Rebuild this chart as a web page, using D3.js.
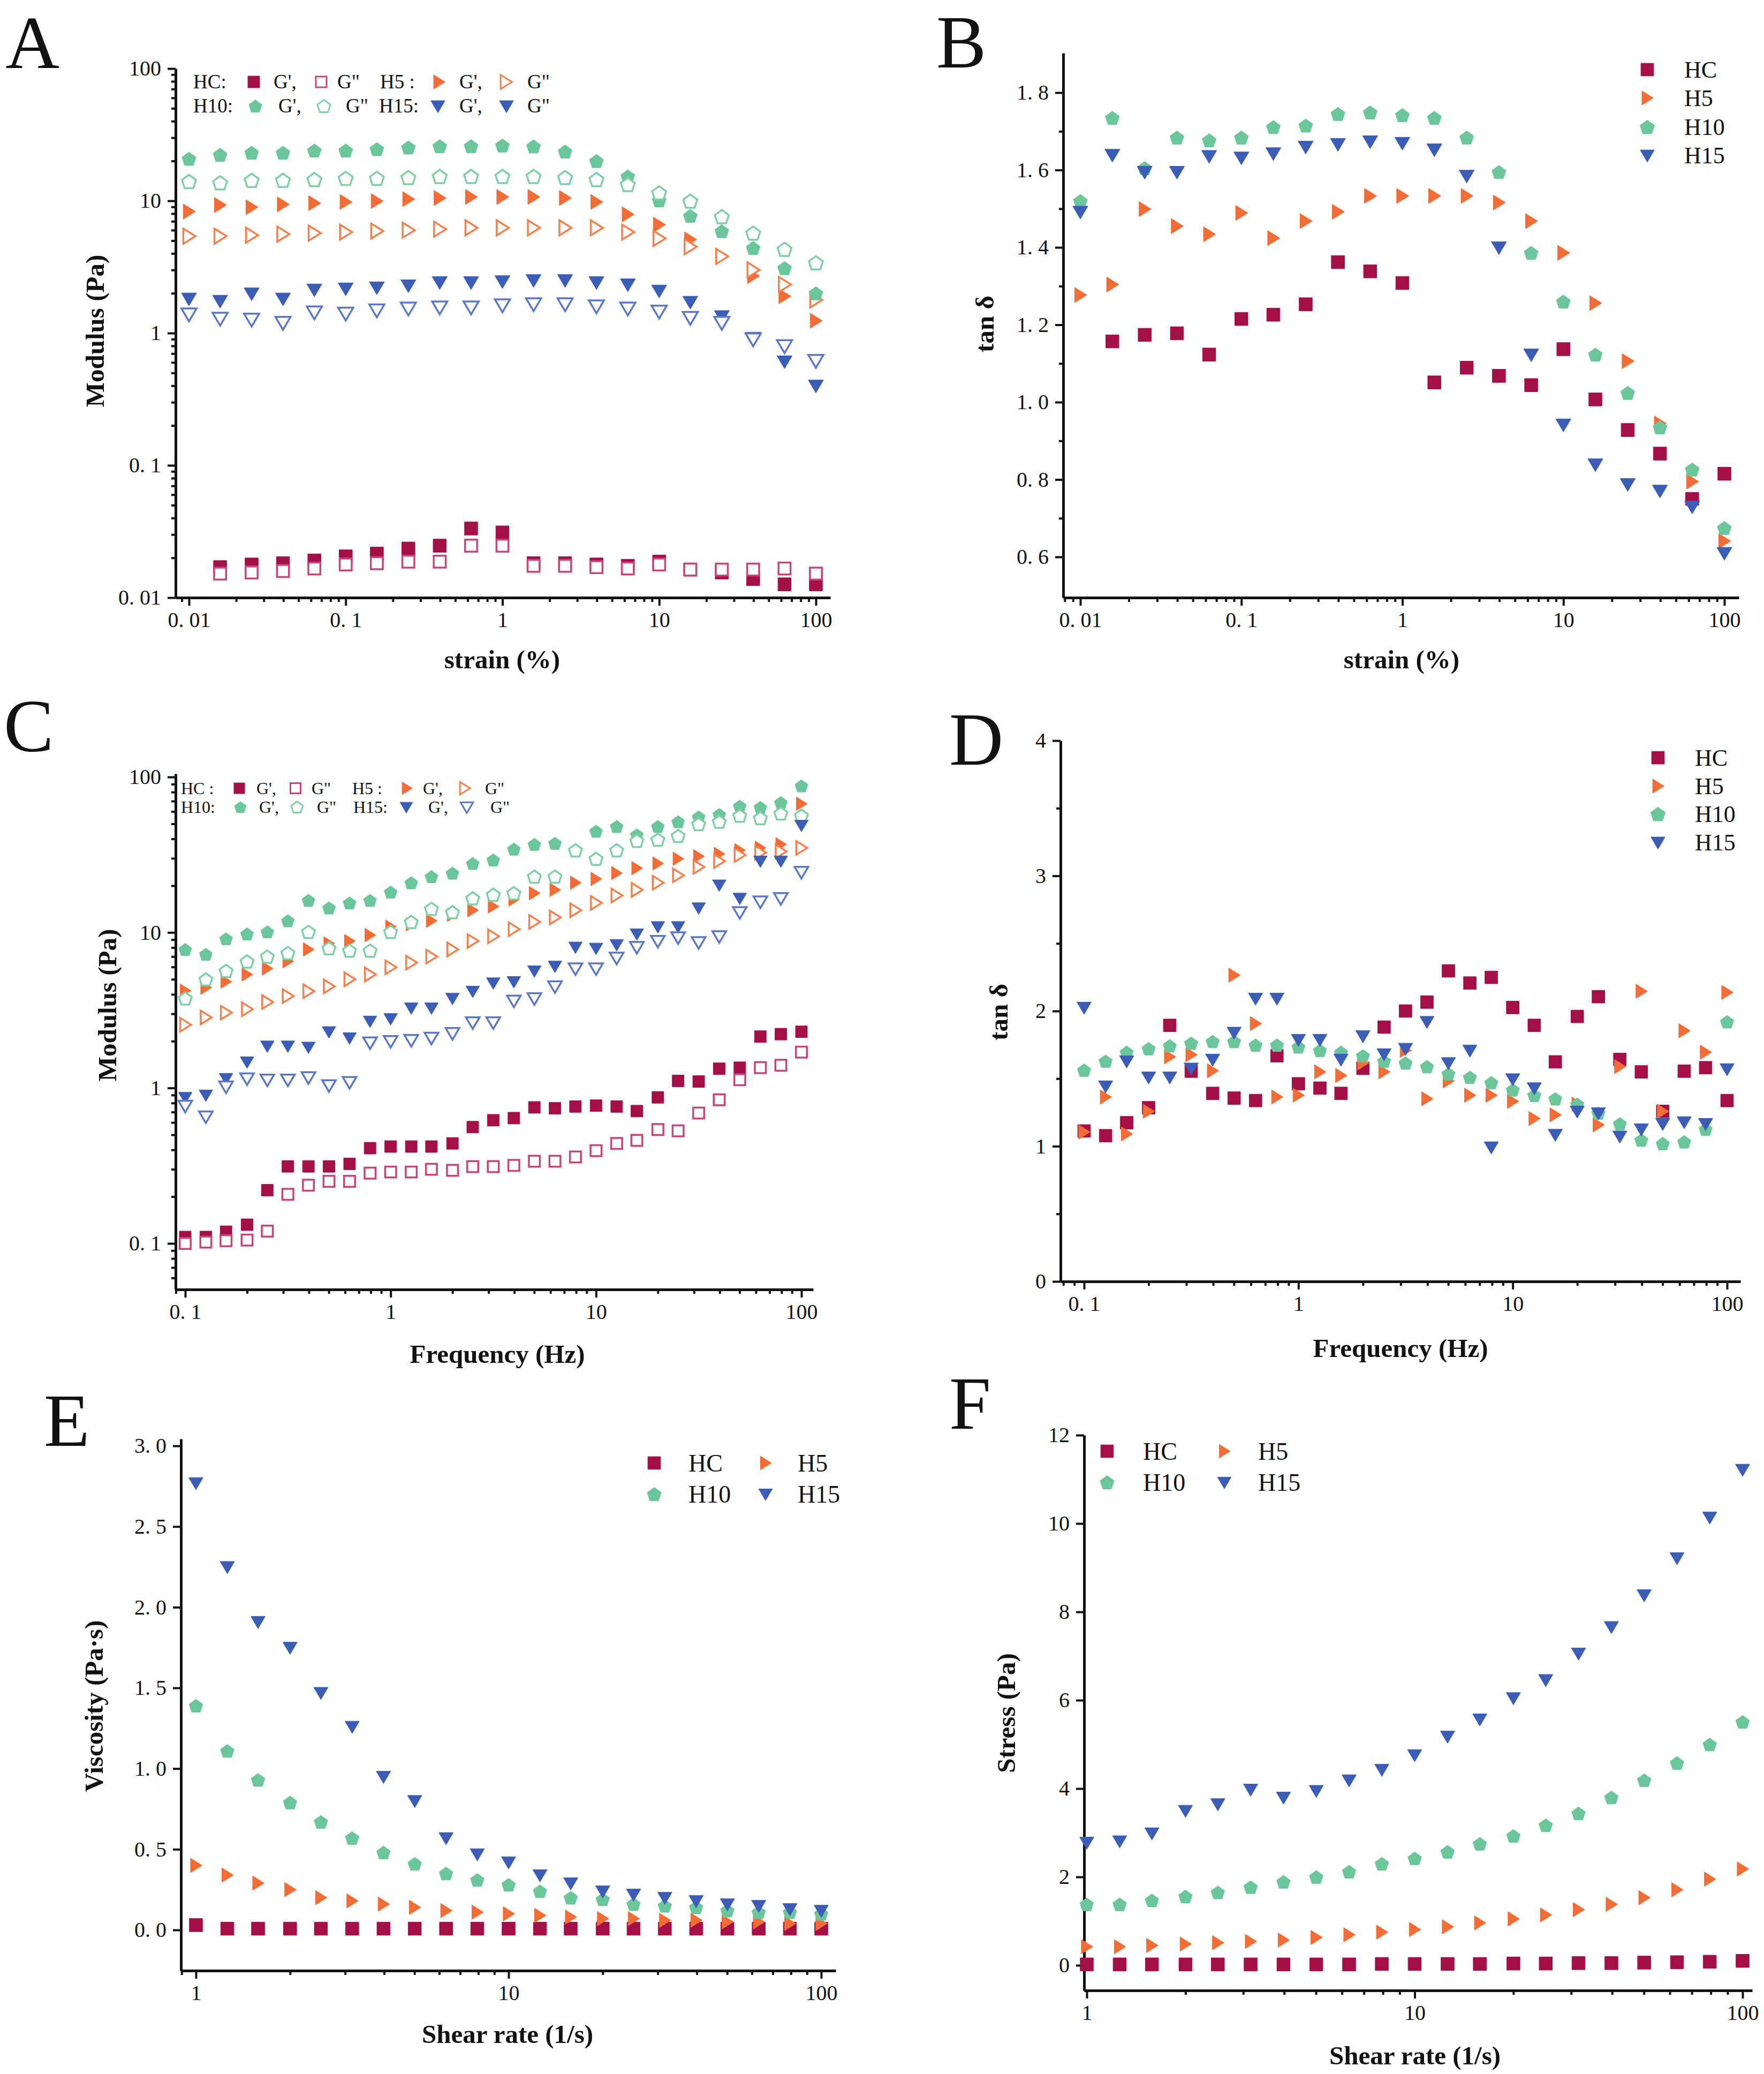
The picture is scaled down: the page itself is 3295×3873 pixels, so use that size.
<!DOCTYPE html>
<html><head><meta charset="utf-8">
<script src="https://cdn.jsdelivr.net/npm/d3@7"></script>
<style>
body{margin:0;background:#fff;}
svg text{font-family:"Liberation Serif","Times New Roman",serif;fill:#111;}
.axis .domain{stroke:#111;stroke-width:5;}
.axis .tick line{stroke:#111;stroke-width:4;}
.axis .tick text{font-size:40px;}
.minor .domain{display:none;}
.title{font-weight:bold;font-size:49px;}
.letter{font-size:140px;}
</style></head><body>
<svg id="chart" width="3295" height="3873"></svg>
<script>
// ---------------- DATA ----------------
const strain = [0.01,0.0158,0.0251,0.0398,0.0631,0.1,0.158,0.251,0.398,0.631,1,1.58,2.51,3.98,6.31,10,15.8,25.1,39.8,63.1,100];
const freq = [0.1,0.126,0.158,0.2,0.251,0.316,0.398,0.501,0.631,0.794,1,1.26,1.58,2,2.51,3.16,3.98,5.01,6.31,7.94,10,12.6,15.8,20,25.1,31.6,39.8,50.1,63.1,79.4,100];
const shear = [1,1.26,1.58,2,2.51,3.16,3.98,5.01,6.31,7.94,10,12.6,15.8,20,25.1,31.6,39.8,50.1,63.1,79.4,100];

// A: strain sweep modulus (Pa)
const aHC_G1 = [null,0.0170,0.0178,0.0182,0.0191,0.0205,0.0215,0.0235,0.0247,0.0333,0.0311,0.0182,0.0182,0.0178,0.0174,0.0187,0.0163,0.0155,0.0138,0.0126,0.0126];
const aHC_G2 = [null,0.0152,0.0155,0.0159,0.0166,0.0178,0.0182,0.0187,0.0187,0.0247,0.0247,0.0174,0.0174,0.0170,0.0166,0.0178,0.0163,0.0163,0.0163,0.0166,0.0152];
const aH5_G1 = [8.3,9.3,8.95,9.4,9.6,9.8,9.96,10.3,10.5,10.7,10.7,10.7,10.5,9.8,7.9,6.6,5.1,3.8,2.7,1.9,1.24];
const aH5_G2 = [5.4,5.4,5.5,5.6,5.7,5.8,5.9,6.0,6.1,6.25,6.25,6.25,6.25,6.25,5.8,5.2,4.5,3.8,3.0,2.33,1.78];
const aH10_G1 = [20.8,22.3,23.1,23.1,24.0,24.0,24.6,25.3,25.9,25.9,26.2,25.8,23.6,20.0,15.3,10.1,7.7,5.9,4.4,3.1,2.0];
const aH10_G2 = [14.0,13.7,14.3,14.3,14.5,14.8,14.8,15.0,15.3,15.3,15.3,15.3,15.0,14.5,13.3,11.5,9.96,7.6,5.7,4.3,3.4];
const aH15_G1 = [1.82,1.75,1.99,1.82,2.13,2.17,2.21,2.29,2.42,2.42,2.46,2.51,2.51,2.42,2.33,2.09,1.72,1.34,0.92,0.61,0.40];
const aH15_G2 = [1.39,1.29,1.27,1.20,1.44,1.41,1.49,1.54,1.57,1.57,1.63,1.66,1.66,1.60,1.54,1.46,1.31,1.20,0.90,0.80,0.62];

// B: strain sweep tan delta
const bHC = [null,1.157,1.174,1.178,1.123,1.215,1.226,1.253,1.362,1.338,1.308,1.051,1.089,1.068,1.044,1.137,1.007,0.928,0.867,0.750,0.815];
const bH5 = [1.277,1.304,1.499,1.455,1.434,1.489,1.424,1.468,1.492,1.533,1.533,1.533,1.533,1.516,1.468,1.386,1.256,1.106,0.945,0.795,0.641];
const bH10 = [1.520,1.735,1.605,1.684,1.677,1.684,1.711,1.715,1.745,1.749,1.742,1.735,1.684,1.595,1.386,1.260,1.123,1.024,0.935,0.826,0.675];
const bH15 = [1.492,1.639,1.595,1.595,1.636,1.632,1.643,1.660,1.667,1.674,1.670,1.653,1.585,1.400,1.123,0.942,0.839,0.788,0.771,0.730,0.610];

// C: frequency sweep modulus (Pa)
const cHC_G1 = [0.110,0.110,0.119,0.132,0.22,0.313,0.313,0.313,0.325,0.41,0.42,0.42,0.42,0.44,0.56,0.62,0.64,0.75,0.74,0.76,0.77,0.76,0.71,0.87,1.11,1.10,1.33,1.35,2.14,2.22,2.30];
const cHC_G2 = [0.100,0.102,0.104,0.105,0.120,0.207,0.237,0.251,0.251,0.283,0.288,0.288,0.300,0.295,0.312,0.312,0.318,0.338,0.338,0.360,0.395,0.44,0.46,0.54,0.53,0.69,0.84,1.13,1.35,1.40,1.70];
const cH5_G1 = [4.22,4.42,4.83,5.37,5.87,6.52,7.78,8.50,8.81,9.62,10.9,11.3,11.9,13.0,13.9,14.7,16.3,17.9,18.8,20.9,22.1,24.1,25.9,27.8,29.8,30.9,32.0,33.8,35.0,36.9,67.3];
const cH5_G2 = [2.55,2.84,3.05,3.21,3.57,3.90,4.19,4.50,5.00,5.37,5.97,6.40,7.00,7.78,8.81,9.45,10.5,11.7,12.5,13.9,15.5,17.3,18.8,20.9,23.3,26.4,28.8,31.5,32.6,33.2,35.0];
const cH10_G1 = [7.78,7.24,9.12,9.79,10.1,11.9,16.1,14.4,15.5,16.1,18.2,20.9,22.9,24.1,27.8,29.3,34.4,36.9,37.5,33.8,44.8,48.1,42.5,48.1,51.6,55.4,57.4,65.0,63.8,68.5,87.8];
const cH10_G2 = [3.77,5.00,5.66,6.52,7.00,7.38,10.1,7.92,7.65,7.65,10.1,11.7,14.2,13.5,16.6,17.5,17.9,22.9,22.9,33.8,29.8,33.8,38.9,39.6,41.8,49.8,51.6,56.4,54.5,58.4,56.4];
const cH15_G1 = [0.869,0.900,1.15,1.47,1.86,1.86,1.83,2.30,2.10,2.69,2.79,3.27,3.27,3.77,4.19,4.74,4.83,5.66,6.07,8.05,7.92,8.35,9.79,10.9,10.9,14.4,20.2,16.6,28.8,28.8,48.9];
const cH15_G2 = [0.767,0.655,1.02,1.15,1.13,1.13,1.17,1.04,1.09,1.96,2.00,2.03,2.10,2.25,2.64,2.64,3.64,3.77,4.50,5.87,5.87,6.87,8.05,8.81,9.29,8.65,9.45,13.5,15.8,16.6,24.5];

// D: frequency sweep tan delta
const dHC = [1.113,1.078,1.174,1.285,1.894,1.555,1.391,1.356,1.338,1.669,1.462,1.430,1.391,1.576,1.881,2.000,2.066,2.297,2.207,2.249,2.026,1.894,1.624,1.960,2.106,1.642,1.550,1.258,1.555,1.581,1.338];
const dH5 = [1.105,1.364,1.091,1.258,1.661,1.677,1.558,2.265,1.907,1.364,1.377,1.550,1.523,1.616,1.550,1.709,1.351,1.483,1.377,1.377,1.332,1.205,1.232,1.311,1.158,1.589,2.146,1.258,1.854,1.695,2.138];
const dH10 = [1.563,1.629,1.695,1.722,1.743,1.762,1.775,1.775,1.748,1.748,1.735,1.709,1.695,1.669,1.629,1.616,1.589,1.536,1.510,1.470,1.417,1.377,1.351,1.311,1.245,1.166,1.046,1.020,1.033,1.126,1.921];
const dH15 = [2.026,1.444,1.629,1.510,1.510,1.576,1.642,1.841,2.093,2.093,1.788,1.788,1.642,1.815,1.682,1.722,1.921,1.616,1.709,0.993,1.497,1.430,1.086,1.258,1.245,1.073,1.126,1.166,1.179,1.166,1.571];

// E: viscosity (Pa·s)
const eHC = [0.03,0.008,0.008,0.008,0.008,0.008,0.008,0.008,0.008,0.008,0.008,0.008,0.008,0.008,0.008,0.008,0.008,0.008,0.008,0.008,0.008];
const eH5 = [0.40,0.34,0.29,0.25,0.20,0.18,0.16,0.14,0.12,0.11,0.10,0.09,0.08,0.07,0.07,0.06,0.06,0.05,0.05,0.04,0.04];
const eH10 = [1.39,1.11,0.93,0.79,0.67,0.57,0.48,0.41,0.35,0.31,0.28,0.24,0.20,0.19,0.16,0.15,0.14,0.12,0.11,0.11,0.10];
const eH15 = [2.77,2.25,1.91,1.75,1.47,1.26,0.95,0.80,0.57,0.47,0.42,0.34,0.29,0.24,0.22,0.20,0.18,0.16,0.15,0.13,0.12];

// F: stress (Pa)
const fHC = [0.02,0.02,0.02,0.02,0.02,0.02,0.02,0.02,0.02,0.03,0.03,0.03,0.03,0.04,0.04,0.05,0.05,0.06,0.07,0.08,0.10];
const fH5 = [0.42,0.42,0.45,0.48,0.51,0.54,0.57,0.63,0.69,0.75,0.81,0.87,0.96,1.05,1.14,1.26,1.38,1.53,1.71,1.95,2.18];
const fH10 = [1.38,1.38,1.47,1.56,1.65,1.77,1.89,2.00,2.12,2.30,2.42,2.57,2.75,2.93,3.17,3.44,3.80,4.19,4.58,5.00,5.51];
const fH15 = [2.78,2.81,2.99,3.50,3.65,3.98,3.80,3.95,4.19,4.43,4.76,5.18,5.57,6.05,6.46,7.06,7.66,8.38,9.22,10.14,11.22];

// tick labels
const ticksA_x = [0.01,0.1,1,10,100], ticksA_xl = ["0. 01","0. 1","1","10","100"];
const ticksA_y = [0.01,0.1,1,10,100], ticksA_yl = ["0. 01","0. 1","1","10","100"];
const ticksB_y = [0.6,0.8,1.0,1.2,1.4,1.6,1.8], ticksB_yl = ["0. 6","0. 8","1. 0","1. 2","1. 4","1. 6","1. 8"];
const ticksC_x = [0.1,1,10,100], ticksC_xl = ["0. 1","1","10","100"];
const ticksC_y = [0.1,1,10,100], ticksC_yl = ["0. 1","1","10","100"];
const ticksD_y = [0,1,2,3,4], ticksD_yl = ["0","1","2","3","4"];
const ticksE_x = [1,10,100], ticksE_xl = ["1","10","100"];
const ticksE_y = [0,0.5,1,1.5,2,2.5,3], ticksE_yl = ["0. 0","0. 5","1. 0","1. 5","2. 0","2. 5","3. 0"];
const ticksF_y = [0,2,4,6,8,10,12], ticksF_yl = ["0","2","4","6","8","10","12"];

// ---------------- STYLE ----------------
const col = {HC:'#a50f48', HCo:'#c8457a', H5:'#f26c36', H5o:'#f3814f', H10:'#6cc69b', H10o:'#7fcfa8', H15:'#3b5db5', H15o:'#5b78c6'};

const shapes = {
  square:{draw(c,s){const h=Math.sqrt(s)/2;c.moveTo(-h,-h);c.lineTo(h,-h);c.lineTo(h,h);c.lineTo(-h,h);c.closePath();}},
  right:{draw(c,s){const h=Math.sqrt(s)/2;c.moveTo(h*0.85,0);c.lineTo(-h*0.75,-h);c.lineTo(-h*0.75,h);c.closePath();}},
  down:{draw(c,s){const h=Math.sqrt(s)/2;c.moveTo(-h,-h*0.75);c.lineTo(h,-h*0.75);c.lineTo(0,h*0.95);c.closePath();}},
  pent:{draw(c,s){const r=Math.sqrt(s)/2*1.08;for(let k=0;k<5;k++){const a=-Math.PI/2+k*2*Math.PI/5;const px=r*Math.cos(a),py=r*Math.sin(a)+r*0.1;k?c.lineTo(px,py):c.moveTo(px,py);}c.closePath();}}
};

const svg = d3.select('#chart');

function logScale(v0,p0,v1,p1,a0,a1){const s=d3.scaleLog().domain([v0,v1]).range([p0,p1]);return s.copy().domain([s.invert(a0),s.invert(a1)]).range([a0,a1]);}
function linScale(v0,p0,v1,p1,a0,a1){const s=d3.scaleLinear().domain([v0,v1]).range([p0,p1]);return s.copy().domain([s.invert(a0),s.invert(a1)]).range([a0,a1]);}
function logMinor(sc){const [d0,d1]=sc.domain();const lo=Math.min(d0,d1),hi=Math.max(d0,d1);const out=[];for(let e=-4;e<4;e++){for(let m=2;m<=9;m++){const v=m*Math.pow(10,e);if(v>=lo&&v<=hi)out.push(v);}}return out;}

function marker(g,shape,size,fill,stroke,sw,cx,cy){
  g.append('path').attr('transform',`translate(${cx},${cy})`).attr('d',d3.symbol().type(shapes[shape]).size(size)())
   .attr('fill',fill).attr('stroke',stroke).attr('stroke-width',sw);
}

function panel(cfg){
  const g = svg.append('g');
  const x=cfg.x, y=cfg.y;
  const x0=x.range()[0], yb=y.range()[0];
  g.append('g').attr('class','axis').attr('transform',`translate(0,${yb})`)
   .call(d3.axisBottom(x).tickValues(cfg.xt).tickFormat((d,i)=>cfg.xtl[i]).tickSize(15).tickPadding(12).tickSizeOuter(0));
  if(cfg.xm) g.append('g').attr('class','axis minor').attr('transform',`translate(0,${yb})`)
   .call(d3.axisBottom(x).tickValues(cfg.xm).tickSize(8).tickFormat('').tickSizeOuter(0));
  g.append('g').attr('class','axis').attr('transform',`translate(${x0},0)`)
   .call(d3.axisLeft(y).tickValues(cfg.yt).tickFormat((d,i)=>cfg.ytl[i]).tickSize(15).tickPadding(12).tickSizeOuter(0));
  if(cfg.ym) g.append('g').attr('class','axis minor').attr('transform',`translate(${x0},0)`)
   .call(d3.axisLeft(y).tickValues(cfg.ym).tickSize(8).tickFormat('').tickSizeOuter(0));
  cfg.series.forEach(s=>{
    const pts = cfg.xs.map((xv,i)=>[xv,s.v[i]]).filter(d=>d[1]!=null);
    g.append('g').selectAll('path').data(pts).join('path')
      .attr('transform',d=>`translate(${x(d[0])},${y(d[1])})`)
      .attr('d',d3.symbol().type(shapes[s.shape]).size(s.size))
      .attr('fill',s.open?'#fff':s.color)
      .attr('stroke',s.color)
      .attr('stroke-width',s.open?3.5:1);
  });
  g.append('text').attr('class','title').attr('x',cfg.xl[0]).attr('y',cfg.xl[1]).attr('text-anchor','middle').text(cfg.xl[2]);
  g.append('text').attr('class','title').attr('text-anchor','middle')
   .attr('transform',`translate(${cfg.yl[0]},${cfg.yl[1]}) rotate(-90)`).text(cfg.yl[2]);
  g.append('text').attr('class','letter').attr('x',cfg.letter[0]).attr('y',cfg.letter[1]).text(cfg.letter[2]);
  return g;
}

// ---------------- PANEL A ----------------
{
  const x = logScale(0.01,353,100,1524,328,1551);
  const y = logScale(0.01,1116,100,128,1116,128);
  const g = panel({x,y,xs:strain,xt:ticksA_x,xtl:ticksA_xl,xm:logMinor(x),yt:ticksA_y,ytl:ticksA_yl,ym:logMinor(y),
    series:[
      {v:aHC_G1,shape:'square',size:600,color:col.HC},
      {v:aHC_G2,shape:'square',size:500,color:col.HCo,open:true},
      {v:aH5_G1,shape:'right',size:800,color:col.H5},
      {v:aH5_G2,shape:'right',size:800,color:col.H5o,open:true},
      {v:aH10_G1,shape:'pent',size:650,color:col.H10},
      {v:aH10_G2,shape:'pent',size:650,color:col.H10o,open:true},
      {v:aH15_G1,shape:'down',size:800,color:col.H15},
      {v:aH15_G2,shape:'down',size:800,color:col.H15o,open:true}
    ],
    xl:[938,1248,'strain (%)'], yl:[194,618,'Modulus (Pa)'], letter:[10,127,'A']});
  const L = g.append('g').style('font-size','37px');
  const r1=153, r2=198;
  const t=(tx,ty,s)=>L.append('text').attr('x',tx).attr('y',ty+12).text(s);
  t(361,r1,'HC:'); marker(L,'square',480,col.HC,col.HC,1,474,r1); t(511,r1,"G',"); marker(L,'square',400,'#fff',col.HCo,3,600,r1); t(630,r1,'G"');
  t(710,r1,'H5 :'); marker(L,'right',700,col.H5,col.H5,1,820,r1); t(858,r1,"G',"); marker(L,'right',700,'#fff',col.H5o,3,945,r1); t(985,r1,'G"');
  t(361,r2,'H10:'); marker(L,'pent',560,col.H10,col.H10,1,477,r2); t(520,r2,"G',"); marker(L,'pent',560,'#fff',col.H10o,3,605,r2); t(646,r2,'G"');
  t(708,r2,'H15:'); marker(L,'down',700,col.H15,col.H15,1,818,r2); t(858,r2,"G',"); marker(L,'down',700,col.H15,col.H15,1,946,r2); t(985,r2,'G"');
}

// ---------------- PANEL B ----------------
{
  const x = logScale(0.01,2018,100,3221,1986,3248);
  const y = linScale(0.6,1040,1.8,173,1116,99);
  const g = panel({x,y,xs:strain,xt:ticksA_x,xtl:ticksA_xl,xm:logMinor(x),yt:ticksB_y,ytl:ticksB_yl,ym:[0.7,0.9,1.1,1.3,1.5,1.7],
    series:[
      {v:bHC,shape:'square',size:600,color:col.HC},
      {v:bH5,shape:'right',size:800,color:col.H5},
      {v:bH10,shape:'pent',size:650,color:col.H10},
      {v:bH15,shape:'down',size:800,color:col.H15}
    ],
    xl:[2618,1248,'strain (%)'], yl:[1856,605,'tan δ'], letter:[1749,126,'B']});
  const L = g.append('g').style('font-size','44px');
  const names=['HC','H5','H10','H15'], shp=['square','right','pent','down'], cl=[col.HC,col.H5,col.H10,col.H15], ry=[130,183,237,290];
  names.forEach((n,i)=>{marker(L,shp[i],shp[i]==='square'?560:700,cl[i],cl[i],1,3077,ry[i]); L.append('text').attr('x',3146).attr('y',ry[i]+15).text(n);});
}

// ---------------- PANEL C ----------------
{
  const x = logScale(0.1,346,100,1497,328,1519);
  const y = logScale(0.1,2322,100,1451,2408,1445);
  const g = panel({x,y,xs:freq,xt:ticksC_x,xtl:ticksC_xl,xm:logMinor(x),yt:ticksC_y,ytl:ticksC_yl,ym:logMinor(y),
    series:[
      {v:cHC_G1,shape:'square',size:480,color:col.HC},
      {v:cHC_G2,shape:'square',size:420,color:col.HCo,open:true},
      {v:cH5_G1,shape:'right',size:650,color:col.H5},
      {v:cH5_G2,shape:'right',size:650,color:col.H5o,open:true},
      {v:cH10_G1,shape:'pent',size:560,color:col.H10},
      {v:cH10_G2,shape:'pent',size:560,color:col.H10o,open:true},
      {v:cH15_G1,shape:'down',size:650,color:col.H15},
      {v:cH15_G2,shape:'down',size:650,color:col.H15o,open:true}
    ],
    xl:[929,2545,'Frequency (Hz)'], yl:[217,1877,'Modulus (Pa)'], letter:[7,1403,'C']});
  const L = g.append('g').style('font-size','32px');
  const r1=1472, r2=1507;
  const t=(tx,ty,s)=>L.append('text').attr('x',tx).attr('y',ty+11).text(s);
  t(338,r1,'HC :'); marker(L,'square',400,col.HC,col.HC,1,447,r1); t(479,r1,"G',"); marker(L,'square',360,'#fff',col.HCo,3,552,r1); t(582,r1,'G"');
  t(658,r1,'H5 :'); marker(L,'right',560,col.H5,col.H5,1,760,r1); t(790,r1,"G',"); marker(L,'right',560,'#fff',col.H5o,3,868,r1); t(906,r1,'G"');
  t(338,r2,'H10:'); marker(L,'pent',450,col.H10,col.H10,1,449,r2); t(484,r2,"G',"); marker(L,'pent',450,'#fff',col.H10o,3,555,r2); t(592,r2,'G"');
  t(660,r2,'H15:'); marker(L,'down',560,col.H15,col.H15,1,759,r2); t(800,r2,"G',"); marker(L,'down',560,'#fff',col.H15o,3,872,r2); t(916,r2,'G"');
}

// ---------------- PANEL D ----------------
{
  const x = logScale(0.1,2025,100,3226,1981,3251);
  const y = linScale(0,2393,4,1383,2393,1383);
  const g = panel({x,y,xs:freq,xt:ticksC_x,xtl:ticksC_xl,xm:logMinor(x),yt:ticksD_y,ytl:ticksD_yl,ym:[0.5,1.5,2.5,3.5],
    series:[
      {v:dHC,shape:'square',size:560,color:col.HC},
      {v:dH5,shape:'right',size:720,color:col.H5},
      {v:dH10,shape:'pent',size:600,color:col.H10},
      {v:dH15,shape:'down',size:720,color:col.H15}
    ],
    xl:[2616,2534,'Frequency (Hz)'], yl:[1882,1890,'tan δ'], letter:[1773,1428,'D']});
  const L = g.append('g').style('font-size','44px');
  const names=['HC','H5','H10','H15'], shp=['square','right','pent','down'], cl=[col.HC,col.H5,col.H10,col.H15], ry=[1415,1468,1520,1573];
  names.forEach((n,i)=>{marker(L,shp[i],shp[i]==='square'?560:700,cl[i],cl[i],1,3097,ry[i]); L.append('text').attr('x',3166).attr('y',ry[i]+15).text(n);});
}

// ---------------- PANEL E ----------------
{
  const x = logScale(1,366,100,1534,338,1561);
  const y = linScale(0,3604,3,2700,3680,2687);
  const g = panel({x,y,xs:shear,xt:ticksE_x,xtl:ticksE_xl,xm:logMinor(x),yt:ticksE_y,ytl:ticksE_yl,
    series:[
      {v:eHC,shape:'square',size:600,color:col.HC},
      {v:eH5,shape:'right',size:720,color:col.H5},
      {v:eH10,shape:'pent',size:620,color:col.H10},
      {v:eH15,shape:'down',size:720,color:col.H15}
    ],
    xl:[948,3815,'Shear rate (1/s)'], yl:[192,3186,'Viscosity (Pa·s)'], letter:[82,2700,'E']});
  const L = g.append('g').style('font-size','46px');
  const it=[['HC','square',col.HC,1222,1286,2732],['H5','right',col.H5,1430,1490,2732],['H10','pent',col.H10,1222,1286,2790],['H15','down',col.H15,1430,1490,2790]];
  it.forEach(d=>{marker(L,d[1],d[1]==='square'?560:650,d[2],d[2],1,d[3],d[5]); L.append('text').attr('x',d[4]).attr('y',d[5]+16).text(d[0]);});
}

// ---------------- PANEL F ----------------
{
  const x = logScale(1,2030,100,3255,2025,3273);
  const y = linScale(0,3670,12,2680,3717,2680);
  const g = panel({x,y,xs:shear,xt:ticksE_x,xtl:ticksE_xl,xm:logMinor(x),yt:ticksF_y,ytl:ticksF_yl,
    series:[
      {v:fHC,shape:'square',size:600,color:col.HC},
      {v:fH5,shape:'right',size:720,color:col.H5},
      {v:fH10,shape:'pent',size:620,color:col.H10},
      {v:fH15,shape:'down',size:720,color:col.H15}
    ],
    xl:[2643,3855,'Shear rate (1/s)'], yl:[1896,3199,'Stress (Pa)'], letter:[1773,2668,'F']});
  const L = g.append('g').style('font-size','46px');
  const it=[['HC','square',col.HC,2068,2135,2710],['H5','right',col.H5,2287,2350,2710],['H10','pent',col.H10,2068,2135,2768],['H15','down',col.H15,2287,2350,2768]];
  it.forEach(d=>{marker(L,d[1],d[1]==='square'?560:650,d[2],d[2],1,d[3],d[5]); L.append('text').attr('x',d[4]).attr('y',d[5]+16).text(d[0]);});
}
</script>
</body></html>
